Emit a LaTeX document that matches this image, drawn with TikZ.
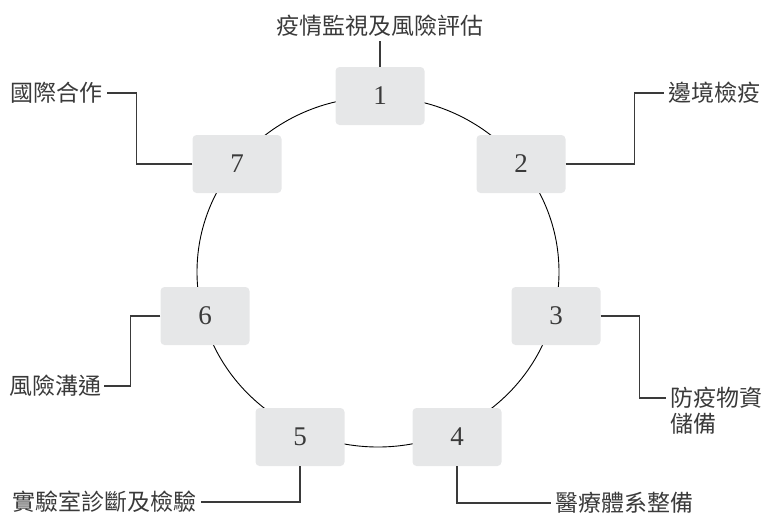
\documentclass[tikz,border=0pt]{standalone}
\usepackage{fontspec}
\setmainfont{Liberation Serif}
\newfontfamily\cjk{Noto Sans CJK TC}
\definecolor{boxgray}{HTML}{E6E7E8}
\definecolor{inkgray}{HTML}{3A3A3A}

\begin{document}
\begin{tikzpicture}[x=1pt, y=-1pt,
    stage/.style={fill=boxgray, rounded corners=4pt, minimum width=89pt, minimum height=58pt,
                  inner sep=0pt, font=\fontsize{27}{27}\selectfont, text=inkgray},
    topic/.style={font=\cjk\fontsize{23}{23}\selectfont, text=inkgray, inner sep=4pt},
    leader/.style={draw=inkgray, line width=1.3pt}]

    \useasboundingbox (0,0) rectangle (764,520);

    % The ring behind the boxes
    \draw[line width=0.9pt] (378,272) ellipse (181 and 175);

    % The seven boxes on the ring
    \node[stage] (s1) at (380,96) {1};
    \node[stage] (s2) at (521,164) {2};
    \node[stage] (s3) at (556,316) {3};
    \node[stage] (s4) at (457,437) {4};
    \node[stage] (s5) at (300,437) {5};
    \node[stage] (s6) at (205,316) {6};
    \node[stage] (s7) at (237,164) {7};

    % Topic labels
    \node[topic, anchor=south] (t1) at (380,41) {疫情監視及風險評估};
    \node[topic, anchor=west] (t2) at (664,93) {邊境檢疫};
    \node[topic, anchor=west] (t3) at (666,398) {防疫物資};
    \node[topic, anchor=west] (t3b) at (666,424) {儲備};
    \node[topic, anchor=west] (t4) at (551,503) {醫療體系整備};
    \node[topic, anchor=east] (t5) at (201,502) {實驗室診斷及檢驗};
    \node[topic, anchor=east, inner sep=2pt] (t6) at (104,386) {風險溝通};
    \node[topic, anchor=east] (t7) at (107,93) {國際合作};

    % Leader lines from boxes to labels
    \draw[leader] (s1.north) -- (t1.south);
    \draw[leader] (s2.east) -- ++(69,0) |- (t2.west);
    \draw[leader] (s3.east) -- ++(39,0) |- (t3.west);
    \draw[leader] (s4.south) |- (t4.west);
    \draw[leader] (s5.south) |- (t5.east);
    \draw[leader] (s6.west) -- ++(-30,0) |- (t6.east);
    \draw[leader] (s7.west) -- ++(-56,0) |- (t7.east);
\end{tikzpicture}
\end{document}
